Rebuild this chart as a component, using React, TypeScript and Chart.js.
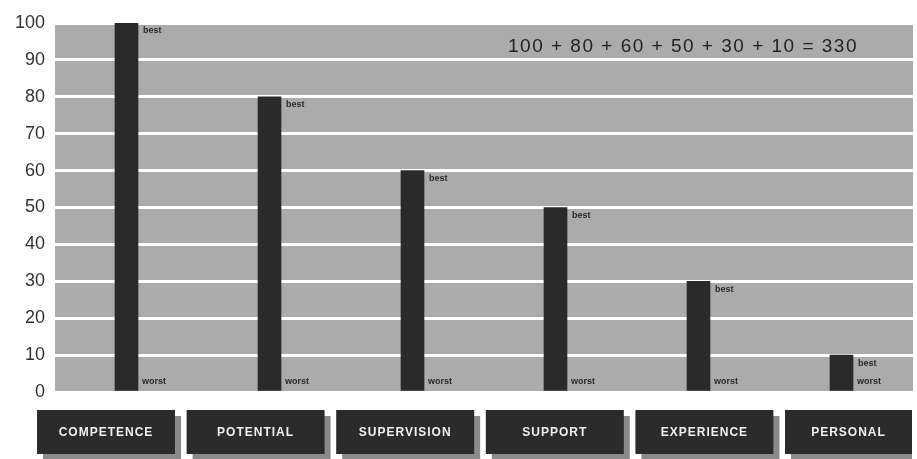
import React, { useEffect, useRef } from "react";
import { Chart, registerables } from "chart.js";

Chart.register(...registerables);

const categories = ["COMPETENCE", "POTENTIAL", "SUPERVISION", "SUPPORT", "EXPERIENCE", "PERSONAL"];
const values = [100, 80, 60, 50, 30, 10];
const yTicks = [0, 10, 20, 30, 40, 50, 60, 70, 80, 90, 100];
const topLabel = "best";
const bottomLabel = "worst";

const decorPlugin = {
  id: "decor",
  beforeDraw(chart: any) {
    const { ctx, chartArea } = chart;
    ctx.save();
    ctx.fillStyle = "#ffffff";
    ctx.fillRect(0, 0, chart.width, chart.height);
    ctx.fillStyle = "#ababab";
    ctx.fillRect(chartArea.left, chartArea.top, chartArea.right - chartArea.left, chartArea.bottom - chartArea.top);
    ctx.restore();
  },
  afterDraw(chart: any) {
    const { ctx, chartArea } = chart;
    const meta = chart.getDatasetMeta(0);
    const y = chart.scales.y;
    ctx.save();
    // best / worst labels
    ctx.fillStyle = "#2a2a2a";
    ctx.font = "bold 9px 'Liberation Sans', Arial, sans-serif";
    ctx.textAlign = "left";
    ctx.textBaseline = "middle";
    meta.data.forEach((bar: any) => {
      const props = bar.getProps(["x", "y", "width"], true);
      const lx = props.x + props.width / 2 + 4;
      ctx.fillText(topLabel, lx + 1, props.y + 8);
      ctx.fillText(bottomLabel, lx, y.getPixelForValue(0) - 10);
    });
    // equation text
    const sum = values.reduce((a, b) => a + b, 0);
    const eq = values.join(" + ") + " = " + sum;
    ctx.font = "19px 'Liberation Sans', Arial, sans-serif";
    (ctx as any).letterSpacing = "1.5px";
    ctx.fillStyle = "#222222";
    ctx.textAlign = "center";
    ctx.textBaseline = "middle";
    ctx.fillText(eq, 683, y.getPixelForValue(93.5));
    (ctx as any).letterSpacing = "0px";
    // category boxes
    const startX = 37;
    const endX = 912;
    const step = 149.6;
    const boxW = 138;
    const boxTop = chartArea.bottom + 18;
    const boxH = 44;
    categories.forEach((c, i) => {
      const left = startX + i * step;
      const w = Math.min(boxW, endX - left);
      const sw = Math.min(w, endX - (left + 6));
      ctx.fillStyle = "#8a8a8a";
      ctx.fillRect(left + 6, boxTop + 6, sw, boxH);
      ctx.fillStyle = "#2b2b2b";
      ctx.fillRect(left, boxTop, w, boxH);
      ctx.fillStyle = "#f0f0f0";
      ctx.font = "bold 12px 'Liberation Sans', Arial, sans-serif";
      (ctx as any).letterSpacing = "1px";
      ctx.textAlign = "center";
      ctx.textBaseline = "middle";
      ctx.fillText(c, left + w / 2, boxTop + boxH / 2 + 1);
      (ctx as any).letterSpacing = "0px";
    });
    ctx.restore();
  },
};

export default function App() {
  const ref = useRef<HTMLCanvasElement>(null);
  useEffect(() => {
    if (!ref.current) return;
    const chart = new Chart(ref.current, {
      type: "bar",
      data: {
        labels: categories,
        datasets: [
          {
            data: values,
            backgroundColor: "#2a2a2a",
            barThickness: 23,
          },
        ],
      },
      options: {
        animation: false,
        responsive: true,
        maintainAspectRatio: false,
        layout: { padding: { top: 23, bottom: 67, right: 4, left: 0 } },
        plugins: { legend: { display: false }, tooltip: { enabled: false } },
        scales: {
          x: { display: false },
          y: {
            min: 0,
            max: 100,
            afterFit(scale: any) {
              scale.width = 55;
            },
            afterBuildTicks(scale: any) {
              scale.ticks = yTicks.map((v) => ({ value: v }));
            },
            ticks: {
              padding: 10,
              color: "#333333",
              font: { size: 18, family: "'Liberation Sans', Arial, sans-serif" },
            },
            border: { display: false },
            grid: { color: "#ffffff", lineWidth: 3, drawTicks: false },
          },
        },
      },
      plugins: [decorPlugin],
    });
    return () => chart.destroy();
  }, []);
  return (
    <div style={{ position: "fixed", left: 0, top: 0, width: 917, height: 459, background: "#fff" }}>
      <canvas ref={ref} />
    </div>
  );
}
